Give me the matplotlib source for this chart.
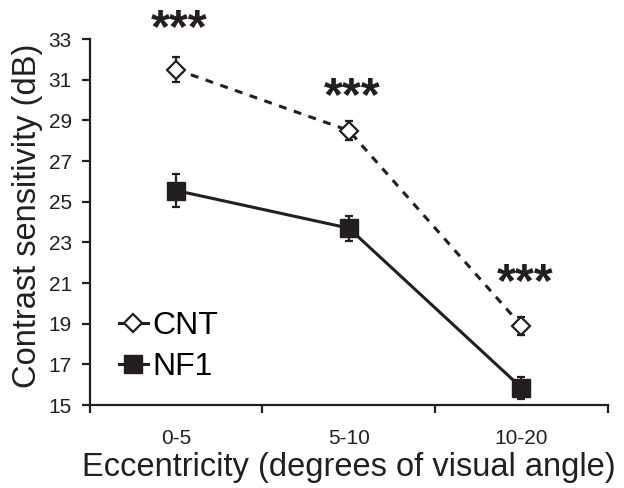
import numpy as np
import matplotlib.pyplot as plt
from matplotlib.lines import Line2D

plt.rcParams['font.family'] = ['Liberation Sans', 'DejaVu Sans']

# data
categories = ["0-5", "5-10", "10-20"]
cnt_mean = [31.5, 28.5, 18.9]
cnt_err = [0.6, 0.45, 0.45]
nf1_mean = [25.55, 23.7, 15.85]
nf1_err = [0.83, 0.62, 0.55]
stars = ["***", "***", "***"]
star_y = [33.45, 30.1, 21.0]

ink = '#231f20'

fig = plt.figure(figsize=(6.24, 4.88), dpi=100)
ax = fig.add_axes([0.144, 0.170, 0.830, 0.750])

x = np.arange(len(categories)) + 0.5

ax.errorbar(x, cnt_mean, yerr=cnt_err, color=ink, linestyle=(0, (2.6, 2.5)), linewidth=2.2,
            marker='D', markersize=9.5, markerfacecolor='white', markeredgecolor=ink,
            markeredgewidth=1.6, ecolor=ink, elinewidth=1.6, capsize=3, capthick=1.6, zorder=3)
ax.errorbar(x, nf1_mean, yerr=nf1_err, color=ink, linestyle='-', linewidth=2.2,
            marker='s', markersize=12.5, markerfacecolor=ink, markeredgecolor=ink,
            ecolor=ink, elinewidth=1.6, capsize=3, capthick=1.6, zorder=3)

for xi, s, yi in zip(x, stars, star_y):
    ax.text(xi + 0.02, yi, s, ha='center', va='center', fontsize=35, fontweight='bold',
            color=ink, clip_on=False)

ax.set_xlim(0, 3)
ax.set_ylim(15, 33)
ax.set_yticks(np.arange(15, 34, 2))
ax.set_xticks([0, 1, 2, 3])
ax.set_xticklabels([])
ax.set_xticks(x, minor=True)
ax.set_xticklabels(categories, minor=True)
ax.tick_params(axis='x', which='minor', length=0, labelsize=15, pad=17, colors=ink)
ax.tick_params(axis='x', which='major', length=6, width=1.6, direction='out', color=ink)
ax.tick_params(axis='y', length=6, width=1.6, direction='out', labelsize=15, pad=7, colors=ink)

for side in ['top', 'right']:
    ax.spines[side].set_visible(False)
for side in ['left', 'bottom']:
    ax.spines[side].set_linewidth(1.6)
    ax.spines[side].set_color(ink)

ax.set_ylabel("Contrast sensitivity (dB)", fontsize=23.5, color=ink)
ax.yaxis.set_label_coords(-0.09, 0.516)
ax.set_xlabel("Eccentricity (degrees of visual angle)", fontsize=23.5, color=ink, labelpad=3)

handles = [
    Line2D([0], [0], color=ink, linewidth=2.2, marker='D', markersize=9.5,
           markerfacecolor='white', markeredgecolor=ink, markeredgewidth=1.6, label='CNT'),
    Line2D([0], [0], color=ink, linewidth=2.2, marker='s', markersize=12.5,
           markerfacecolor=ink, markeredgecolor=ink, label='NF1'),
]
ax.legend(handles=handles, loc='lower left', bbox_to_anchor=(0.056, 0.062), frameon=False,
          fontsize=23, handlelength=0.9, handletextpad=0.15, labelspacing=0.35,
          borderpad=0, borderaxespad=0)

fig.savefig("out.png", dpi=100)
